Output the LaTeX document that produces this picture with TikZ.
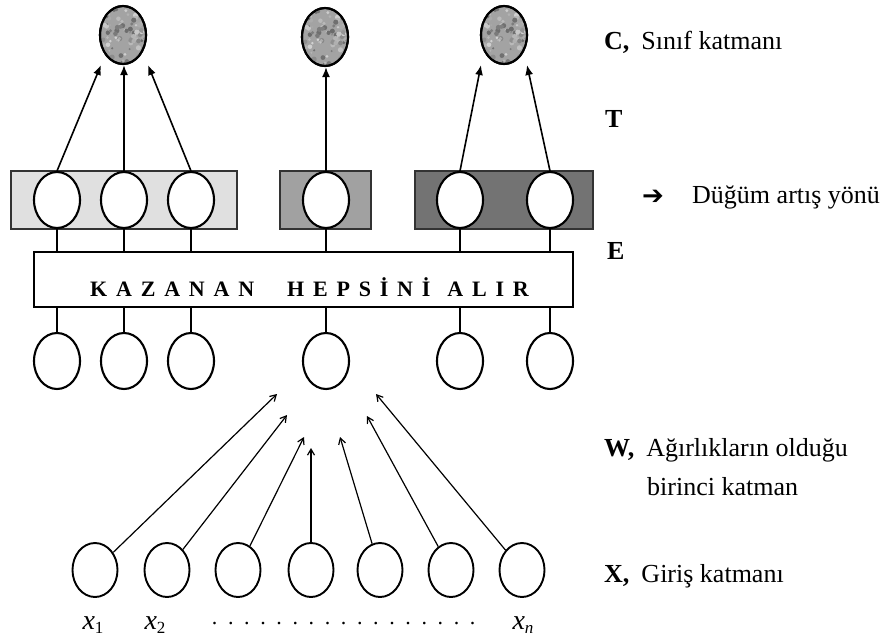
\documentclass[tikz,border=0pt]{standalone}
\usepackage{fontspec}
\setmainfont{Liberation Serif}
\newfontfamily\symfont{DejaVu Sans}
\usetikzlibrary{shapes.geometric,arrows.meta}
\newcommand{\ks}{\hspace{8.8pt}}
\newcommand{\wsa}{\hspace{33pt}}
\newcommand{\wsb}{\hspace{17pt}}
\newcommand{\lblgap}{\hspace{12pt}}
\begin{document}
\begin{tikzpicture}[x=1pt,y=-1pt,
  unit/.style={draw=black,line width=2.1pt,fill=white,ellipse,minimum width=46pt,minimum height=56pt,inner sep=0pt},
  inunit/.style={unit,line width=1.9pt,minimum width=45pt,minimum height=54pt},
  classunit/.style={draw=black,line width=2.1pt,ellipse,minimum width=46pt,minimum height=58pt,inner sep=0pt},
  grpbox/.style={draw=black!80,line width=1.5pt,inner sep=0pt},
  wire/.style={line width=1.8pt},
  up/.style={line width=1.6pt,-{Latex[length=10pt,width=8pt]}},
  feed/.style={line width=1.2pt,-{Straight Barb[length=6pt,width=7pt]}},
  lbl/.style={anchor=west,inner sep=0pt,font=\fontsize{26}{30}\selectfont},
  sub/.style={inner sep=0pt,font=\fontsize{28}{30}\selectfont},
]
\useasboundingbox (0,0) rectangle (888,639);

% ---- class layer (mottled grey units)
\foreach \n/\x/\y in {c1/123/35, c2/325/37, c3/504/35}{
  \node[classunit,fill=black!36] (\n) at (\x,\y) {};
  \begin{scope}
    \clip (\x,\y) ellipse (22pt and 28pt);
    \pgfmathsetseed{17}
    \foreach \k in {1,...,120}{
      \pgfmathsetmacro{\dx}{rand*22}
      \pgfmathsetmacro{\dy}{rand*28}
      \pgfmathsetmacro{\sh}{18+random(0,40)}
      \fill[black!\sh] (\x+\dx,\y+\dy) circle (0.9pt+rnd*1.8pt);
    }
  \end{scope}
  \node[classunit] at (\x,\y) {};
}

% ---- group boxes
\node[grpbox,fill=black!12,minimum width=226pt,minimum height=58pt] (g1) at (124,200) {};
\node[grpbox,fill=black!37,minimum width=91pt,minimum height=58pt] (g2) at (325.5,200) {};
\node[grpbox,fill=black!55,minimum width=178pt,minimum height=58pt] (g3) at (504,200) {};

% ---- units in the group boxes
\foreach \n/\x in {b1/57, b2/124, b3/191, b4/326, b5/460, b6/550}{
  \node[unit] (\n) at (\x,200) {};
}

% ---- winner-takes-all box
\node[draw=black,line width=2pt,fill=white,minimum width=539pt,minimum height=55pt,inner sep=0pt] (wta) at (303.5,279.5) {};
\node[inner sep=0pt,anchor=west,font=\fontsize{22}{24}\selectfont\bfseries] (wtatext) at (90,287)
  {K\ks A\ks Z\ks A\ks N\ks A\ks N\wsa H\ks E\ks P\ks S\ks İ\ks N\ks İ\wsb A\ks L\ks I\ks R};

% ---- units under the box
\foreach \n/\x in {d1/57, d2/124, d3/191, d4/326, d5/460, d6/550}{
  \node[unit] (\n) at (\x,361) {};
}

% ---- connections box units <-> WTA box <-> lower units
\foreach \n in {1,...,6}{
  \draw[wire] (b\n.south) -- (b\n.south |- wta.north);
  \draw[wire] (d\n.north |- wta.south) -- (d\n.north);
}

% ---- arrows to the class layer
\coordinate (t1) at (101,65);
\coordinate (t3) at (148,65);
\coordinate (t5) at (481,65);
\coordinate (t6) at (527,65);
\draw[up] (b1.north) -- (t1);
\draw[up] (b2.north) -- (c1.south -| b2.north);
\draw[up] (b3.north) -- (t3);
\draw[up] (b4.north) -- (c2.south -| b4.north);
\draw[up] (b5.north) -- (t5);
\draw[up] (b6.north) -- (t6);

% ---- input layer
\foreach \n/\x in {x1/95, x2/167, x3/238, x4/311, x5/380, x6/451, x7/522}{
  \node[inunit] (\n) at (\x,570) {};
}
\coordinate (f1) at (277,394);
\coordinate (f2) at (287,415);
\coordinate (f3) at (304,437);
\coordinate (f4) at (311,448);
\coordinate (f5) at (340,437);
\coordinate (f6) at (367,416);
\coordinate (f7) at (376,394);
\foreach \k in {1,...,7}{
  \draw[feed] (x\k) -- (f\k);
}

% ---- input labels
\node[sub] (l1) at (93,625) {\textit{x}\raisebox{-4pt}{\fontsize{17}{18}\selectfont 1}};
\node[sub] (l2) at (155,625) {\textit{x}\raisebox{-4pt}{\fontsize{17}{18}\selectfont 2}};
\node[inner sep=0pt,anchor=west,font=\fontsize{22}{24}\selectfont] (ldots) at (206,624)
  {\makebox[275pt]{\xleaders\hbox to 15.3pt{\hss.\hss}\hfill}};
\node[sub] (ln) at (523,625) {\textit{x}\raisebox{-4pt}{\fontsize{17}{18}\selectfont\textit{n}}};

% ---- layer legend
\node[lbl] (lc) at (604,42) {\textbf{C,}\lblgap Sınıf katmanı};
\node[lbl] (lt) at (605,119) {\textbf{T}};
\node[inner sep=0pt,font=\symfont\bfseries\fontsize{26}{28}\selectfont] (ldirarrow) at (653,197) {➔};
\node[lbl] (ldir) at (692,197) {Düğüm artış yönü};
\node[lbl] (le) at (607,251) {\textbf{E}};
\node[lbl] (lw) at (604,450) {\textbf{W,}\lblgap Ağırlıkların olduğu};
\node[lbl] (lw2) at (647,487) {birinci katman};
\node[lbl] (lx) at (604,576) {\textbf{X,}\lblgap Giriş katmanı};
\end{tikzpicture}
\end{document}
